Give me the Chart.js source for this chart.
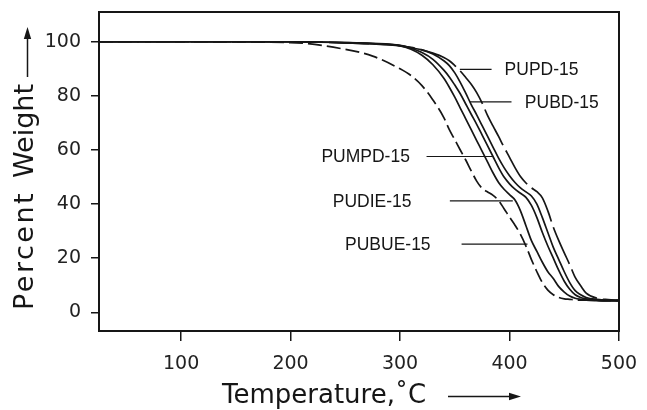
<!DOCTYPE html>
<html><head><meta charset="utf-8">
<script src="https://cdn.jsdelivr.net/npm/chart.js@4"></script>
<style>html,body{margin:0;padding:0;background:#fff;overflow:hidden}</style>
</head><body>
<canvas id="c" width="647" height="410" style="width:647px;height:410px;display:block"></canvas>
<script>
// ---- data (temperature in °C, weight in %) ----
const temperatures = [25,100,200,250,275,300,310,320,330,340,345,350,355,360,365,370,375,380,385,390,395,400,405,410,415,420,425,430,435,440,445,450,455,460,465,470,480,490,500];
const pupd  = [100,100,100,99.6,99.2,98.5,97.9,97,95.8,94.2,93,91.2,89.2,86.8,84.3,81.2,77.3,72.7,68.8,65,61,57.3,53.5,50.2,47.8,46,44.6,42.3,37.5,31.5,26.5,22,17.6,12.9,9.8,7.1,5.2,4.7,4.5];
const pubd  = [100,100,100,99.7,99.4,98.7,97.8,97,95.5,93,91.2,88.5,85,81,76.8,73,69,65,61,57,53.5,50.5,48,46,44.5,43,40,35,29.5,24,19.5,15,11,8,6.5,5.5,4.8,4.5,4.4];
const pumpd = [100,100,100,99.7,99.3,98.6,97.6,96,93.5,89.5,87,84,80.8,77,73.2,69.5,65.5,61.5,57.5,53.5,50,47.5,45.5,44,42.5,39.5,35,29.5,24.5,20,15.5,11.5,8.5,6.5,5.5,5,4.5,4.3,4.3];
const pudie = [100,100,100,99.6,99.2,98.5,97.2,95,91.5,86.5,83.2,79.5,75.5,71.5,67.5,63.5,59.5,55.5,51.5,48,45.5,43.5,41.5,37.5,32,26.5,22.5,18.5,15,12.5,9.5,7.5,6,5.2,4.8,4.5,4.3,4.2,4.2];
const pubue = [100,100,99.7,97.2,94.7,90,87.5,83.8,78.5,72,67.5,63.8,60,56.3,52.3,48.5,45.8,44.5,43.2,41.3,38.3,35.2,32.2,28.8,24.5,19.5,15,11,8.2,6.5,5.5,5,4.8,4.6,4.5,4.5,4.4,4.3,4.3];
const seriesNames = ['PUPD-15','PUBD-15','PUMPD-15','PUDIE-15','PUBUE-15'];
const seriesValues = [pupd, pubd, pumpd, pudie, pubue];
const xTickValues = [100,200,300,400,500];
const yTickValues = [0,20,40,60,80,100];
const xTitle = 'Temperature,˚C';
const yTitleWords = ['Percent','Weight'];
// label callouts: pointer weight level, pointer start/end temperature, text anchor temperature
const calloutW    = [89.8, 77.8, 57.6, 41.2, 25.2];
const calloutFrom = [354.6, 363.7, 324.2, 345.5, 356.2];
const calloutTo   = [383.6, 401.8, 384.7, 403, 416.4];
const calloutText = [395.5, 414, 309, 310.5, 327.9];

// ---- styles ----
const INK = '#161616';
const dashes = [[40,6], [], [], [], [14,5]];
const calloutAlign = ['left','left','right','right','right'];

const datasets = seriesNames.map((n,i)=>({
  label:n,
  data: temperatures.map((t,k)=>({x:t,y:seriesValues[i][k]})),
  borderColor: INK, borderWidth: 1.7, borderDash: dashes[i],
  pointRadius:0, fill:false, cubicInterpolationMode:'monotone'
}));

const decor = {
  id:'decor',
  afterDraw(chart){
    const ctx = chart.ctx, a = chart.chartArea, xs = chart.scales.x, ys = chart.scales.y;
    ctx.save();
    ctx.strokeStyle = INK; ctx.lineWidth = 2;
    ctx.strokeRect(a.left, a.top, a.right-a.left, a.bottom-a.top);
    ctx.font = '17.5px "Liberation Sans", Arial, sans-serif';
    ctx.fillStyle = INK; ctx.textBaseline = 'middle';
    ctx.lineWidth = 1.2;
    seriesNames.forEach((n,i)=>{
      const y = ys.getPixelForValue(calloutW[i]);
      ctx.beginPath();
      ctx.moveTo(xs.getPixelForValue(calloutFrom[i]), y);
      ctx.lineTo(xs.getPixelForValue(calloutTo[i]), y);
      ctx.stroke();
      ctx.textAlign = calloutAlign[i];
      ctx.fillText(n, xs.getPixelForValue(calloutText[i]), y+1);
    });
    ctx.font = '26px "DejaVu Sans", sans-serif';
    ctx.textAlign = 'left'; ctx.textBaseline = 'alphabetic';
    ctx.fillText(xTitle, 222, 403);
    ctx.lineWidth = 1.5;
    ctx.beginPath(); ctx.moveTo(448, 396.5); ctx.lineTo(512, 396.5); ctx.stroke();
    ctx.beginPath(); ctx.moveTo(521, 396.5); ctx.lineTo(509, 392.8); ctx.lineTo(509, 400.2); ctx.closePath(); ctx.fill();
    ctx.save();
    ctx.translate(33, 310); ctx.rotate(-Math.PI/2);
    ctx.font = '27px "DejaVu Sans", sans-serif';
    ctx.letterSpacing = '2.5px';
    ctx.fillText(yTitleWords[0], 0, 0);
    ctx.letterSpacing = '0px';
    ctx.fillText(yTitleWords[1], 132, 0);
    ctx.beginPath(); ctx.moveTo(233, -5.5); ctx.lineTo(274, -5.5); ctx.stroke();
    ctx.beginPath(); ctx.moveTo(283, -5.5); ctx.lineTo(271, -9.2); ctx.lineTo(271, -1.8); ctx.closePath(); ctx.fill();
    ctx.restore();
    ctx.restore();
  }
};

new Chart(document.getElementById('c'), {
  type:'line',
  data:{datasets},
  options:{
    responsive:false, animation:false, devicePixelRatio:1,
    layout:{padding:{top:12, right:28, left:0, bottom:0}},
    plugins:{legend:{display:false}, tooltip:{enabled:false}},
    scales:{
      x:{ type:'linear', min:25, max:500,
        afterBuildTicks: s => { s.ticks = xTickValues.map(v=>({value:v})); },
        afterFit: s => { s.height = 79; s.paddingLeft = 0; s.paddingRight = 0; },
        grid:{drawOnChartArea:false, drawTicks:true, tickLength:10, color:INK, lineWidth:1.5},
        border:{display:true, color:INK, width:2},
        ticks:{color:'#222', font:{family:'"DejaVu Sans", sans-serif', size:19}, padding:12, maxRotation:0}
      },
      y:{ type:'linear', min:-6.9, max:111,
        afterBuildTicks: s => { s.ticks = yTickValues.map(v=>({value:v})); },
        afterFit: s => { s.width = 99; s.paddingTop = 0; s.paddingBottom = 0; },
        grid:{drawOnChartArea:false, drawTicks:true, tickLength:8, color:INK, lineWidth:1.5},
        border:{display:true, color:INK, width:2},
        ticks:{color:'#222', font:{family:'"DejaVu Sans", sans-serif', size:19}, padding:10}
      }
    }
  },
  plugins:[decor]
});
</script>
</body></html>
